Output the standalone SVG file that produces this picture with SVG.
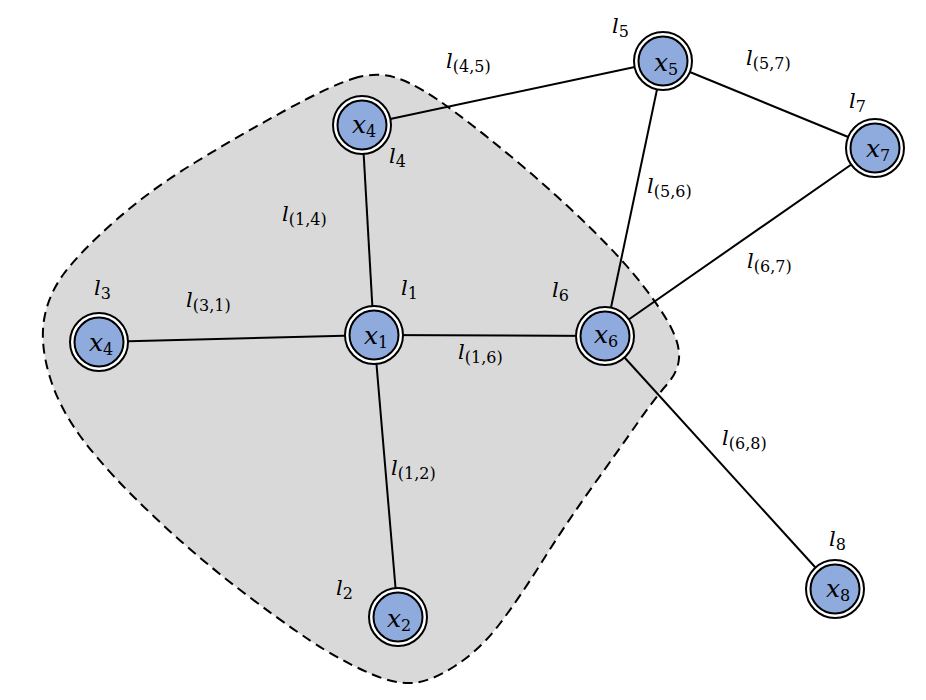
<svg xmlns="http://www.w3.org/2000/svg" width="926" height="700" viewBox="0 0 926 700">
<style>
.bg{fill:#ffffff}
.region{fill:#D9D9D9;stroke:#000;stroke-width:2;stroke-dasharray:10 6}
.edge{stroke:#000;stroke-width:2;fill:none}
.ring{fill:#fff;stroke:#000;stroke-width:2}
.core{fill:#8FAADC;stroke:#000;stroke-width:2}
.nt{font-family:"DejaVu Serif","Liberation Serif",serif;font-style:italic;font-size:25px;fill:#000}
.lt{font-family:"DejaVu Serif","Liberation Serif",serif;font-style:italic;font-size:21px;fill:#000}
.sub{font-style:normal;font-size:16px}
</style>
<rect class="bg" x="0" y="0" width="926" height="700"/>
<g id="region">
<path class="region" d="M353.5,78.5 Q377,71 398.5,78.5 Q420,86 453.5,111 Q487,136 523.5,167 Q560,198 591.5,229 Q623,260 642.5,285 Q662,310 671,327.5 Q680,345 679,358.5 Q678,372 666.5,385 Q655,398 637.5,423 Q620,448 592.5,486.5 Q565,525 542.5,561 Q520,597 500,623.5 Q480,650 455,666 Q430,682 412.5,683 Q395,684 372.5,674.5 Q350,665 325,650 Q300,635 250,597.5 Q200,560 155,517.5 Q110,475 85,442.5 Q60,410 50,377.5 Q40,345 44,320 Q48,295 64,273.5 Q80,252 115,221 Q150,190 195,162.5 Q240,135 285,110.5 Q330,86 353.5,78.5 Z"/>
</g>
<g id="connectors">
<line class="edge" x1="99" y1="342" x2="374" y2="335"/>
<line class="edge" x1="374" y1="335" x2="362" y2="125"/>
<line class="edge" x1="374" y1="335" x2="398" y2="617"/>
<line class="edge" x1="374" y1="335" x2="605" y2="336"/>
<line class="edge" x1="362" y1="125" x2="663" y2="61"/>
<line class="edge" x1="663" y1="61" x2="605" y2="336"/>
<line class="edge" x1="663" y1="61" x2="875" y2="148"/>
<line class="edge" x1="605" y1="336" x2="875" y2="148"/>
<line class="edge" x1="605" y1="336" x2="835" y2="589"/>
<text class="lt" x="446" y="68">l<tspan class="sub" dy="4">(4,5)</tspan></text>
<text class="lt" x="746" y="65">l<tspan class="sub" dy="4">(5,7)</tspan></text>
<text class="lt" x="647" y="193">l<tspan class="sub" dy="4">(5,6)</tspan></text>
<text class="lt" x="747" y="268">l<tspan class="sub" dy="4">(6,7)</tspan></text>
<text class="lt" x="282" y="221">l<tspan class="sub" dy="4">(1,4)</tspan></text>
<text class="lt" x="186" y="307">l<tspan class="sub" dy="4">(3,1)</tspan></text>
<text class="lt" x="458" y="359">l<tspan class="sub" dy="4">(1,6)</tspan></text>
<text class="lt" x="391" y="475">l<tspan class="sub" dy="4">(1,2)</tspan></text>
<text class="lt" x="722" y="445">l<tspan class="sub" dy="4">(6,8)</tspan></text>
</g>
<g id="node-x1">
<circle class="ring" cx="374" cy="335" r="29"/>
<circle class="core" cx="374" cy="335" r="24.5"/>
<text class="nt" x="364" y="344">x<tspan class="sub" dy="4">1</tspan></text>
<text class="lt" x="401" y="295">l<tspan class="sub" dy="4">1</tspan></text>
</g>
<g id="node-x4-top">
<circle class="ring" cx="362" cy="125" r="29"/>
<circle class="core" cx="362" cy="125" r="24.5"/>
<text class="nt" x="352" y="133">x<tspan class="sub" dy="4">4</tspan></text>
<text class="lt" x="389" y="163">l<tspan class="sub" dy="4">4</tspan></text>
</g>
<g id="node-x4-left">
<circle class="ring" cx="99" cy="342" r="29"/>
<circle class="core" cx="99" cy="342" r="24.5"/>
<text class="nt" x="89" y="351">x<tspan class="sub" dy="4">4</tspan></text>
<text class="lt" x="94" y="295">l<tspan class="sub" dy="4">3</tspan></text>
</g>
<g id="node-x2">
<circle class="ring" cx="398" cy="617" r="29"/>
<circle class="core" cx="398" cy="617" r="24.5"/>
<text class="nt" x="387" y="627">x<tspan class="sub" dy="4">2</tspan></text>
<text class="lt" x="336" y="595">l<tspan class="sub" dy="4">2</tspan></text>
</g>
<g id="node-x6">
<circle class="ring" cx="605" cy="336" r="29"/>
<circle class="core" cx="605" cy="336" r="24.5"/>
<text class="nt" x="594" y="343">x<tspan class="sub" dy="4">6</tspan></text>
<text class="lt" x="552" y="297">l<tspan class="sub" dy="4">6</tspan></text>
</g>
<g id="node-x5">
<circle class="ring" cx="663" cy="61" r="29"/>
<circle class="core" cx="663" cy="61" r="24.5"/>
<text class="nt" x="654" y="71">x<tspan class="sub" dy="4">5</tspan></text>
<text class="lt" x="612" y="33">l<tspan class="sub" dy="4">5</tspan></text>
</g>
<g id="node-x7">
<circle class="ring" cx="875" cy="148" r="29"/>
<circle class="core" cx="875" cy="148" r="24.5"/>
<text class="nt" x="866" y="157">x<tspan class="sub" dy="4">7</tspan></text>
<text class="lt" x="849" y="108">l<tspan class="sub" dy="4">7</tspan></text>
</g>
<g id="node-x8">
<circle class="ring" cx="835" cy="589" r="29"/>
<circle class="core" cx="835" cy="589" r="24.5"/>
<text class="nt" x="826" y="597">x<tspan class="sub" dy="4">8</tspan></text>
<text class="lt" x="829" y="546">l<tspan class="sub" dy="4">8</tspan></text>
</g>
</svg>
